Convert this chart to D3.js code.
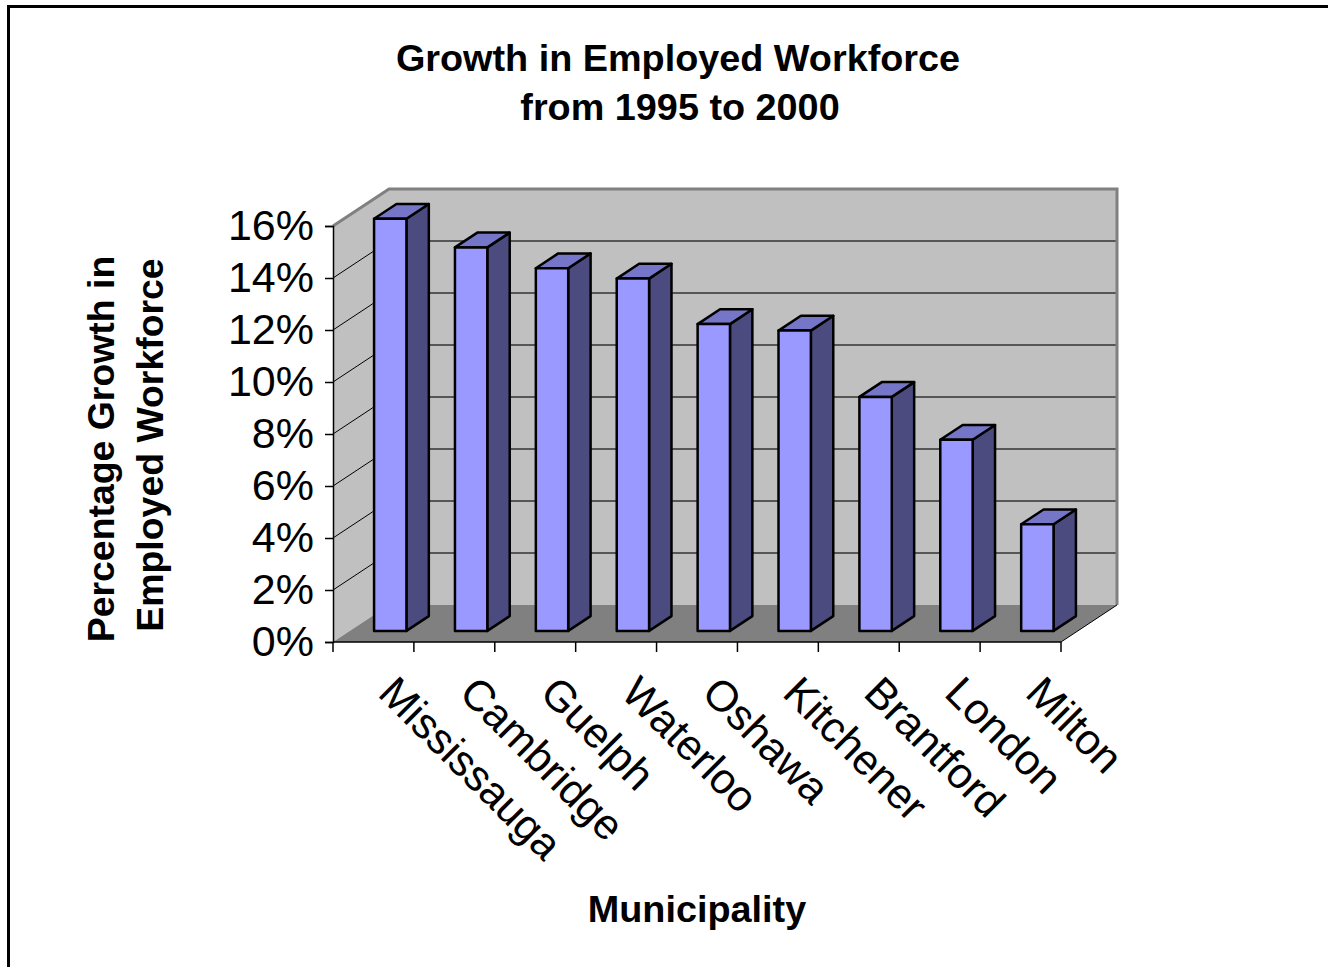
<!DOCTYPE html>
<html>
<head>
<meta charset="utf-8">
<script src="https://cdn.jsdelivr.net/npm/d3@7"></script>
<style>
  body { margin: 0; background: #fff; }
  svg { display: block; font-family: "Liberation Sans", Arial, sans-serif; }
</style>
</head>
<body>
<div id="chart"></div>
<script>
// data
var cities = ["Mississauga", "Cambridge", "Guelph", "Waterloo", "Oshawa",
              "Kitchener", "Brantford", "London", "Milton"];
var growth = [15.85, 14.75, 13.95, 13.55, 11.8, 11.55, 9.0, 7.35, 4.1];
var yTicks = [0, 2, 4, 6, 8, 10, 12, 14, 16];

var width = 1328, height = 967;

var svg = d3.select("#chart")
    .append("svg")
    .attr("width", width)
    .attr("height", height);

// outer border
svg.append("rect")
    .attr("x", 8.5).attr("y", 6.5)
    .attr("width", 1400).attr("height", 1000)
    .attr("fill", "none")
    .attr("stroke", "#000")
    .attr("stroke-width", 3);

// front plane scales
var x = d3.scaleBand().domain(cities).range([333, 1061]).padding(0);
var y = d3.scaleLinear().domain([0, 16]).range([642, 226]);

// 3d depth offset
var depthX = 56, depthY = -37;
var barFront = 0.3, barDepth = 0.4;

function pt(px, py) { return px + "," + py; }

var x0 = x.range()[0], x1 = x.range()[1];
var yBase = y(0), yTop = y(16);

// walls
svg.append("polygon")
    .attr("points", [pt(x0, yBase), pt(x0, yTop), pt(x0 + depthX, yTop + depthY), pt(x0 + depthX, yBase + depthY)].join(" "))
    .attr("fill", "#c0c0c0");
svg.append("polygon")
    .attr("points", [pt(x0 + depthX, yTop + depthY), pt(x1 + depthX, yTop + depthY), pt(x1 + depthX, yBase + depthY), pt(x0 + depthX, yBase + depthY)].join(" "))
    .attr("fill", "#c0c0c0");

// gridlines
var grid = yTicks.filter(function (d) { return d > 0 && d < 16; });
svg.selectAll(".gridBack")
    .data(grid)
    .enter().append("line")
    .attr("x1", x0 + depthX).attr("x2", x1 + depthX)
    .attr("y1", function (d) { return y(d) + depthY; })
    .attr("y2", function (d) { return y(d) + depthY; })
    .attr("stroke", "#333")
    .attr("stroke-width", 1.5);
svg.selectAll(".gridSide")
    .data(grid)
    .enter().append("line")
    .attr("x1", x0).attr("x2", x0 + depthX)
    .attr("y1", function (d) { return y(d); })
    .attr("y2", function (d) { return y(d) + depthY; })
    .attr("stroke", "#000")
    .attr("stroke-width", 1);

// floor
svg.append("polygon")
    .attr("points", [pt(x0, yBase), pt(x1, yBase), pt(x1 + depthX, yBase + depthY), pt(x0 + depthX, yBase + depthY)].join(" "))
    .attr("fill", "#808080");

// wall edges
svg.append("polyline")
    .attr("points", [pt(x0, yTop), pt(x0 + depthX, yTop + depthY), pt(x1 + depthX, yTop + depthY), pt(x1 + depthX, yBase + depthY)].join(" "))
    .attr("fill", "none")
    .attr("stroke", "#808080")
    .attr("stroke-width", 3);
svg.append("line")
    .attr("x1", x1).attr("y1", yBase)
    .attr("x2", x1 + depthX).attr("y2", yBase + depthY)
    .attr("stroke", "#000")
    .attr("stroke-width", 1);

// bars
var bw = x.bandwidth();
var w = bw * 0.4;
var fdx = depthX * barFront, fdy = depthY * barFront;
var sdx = depthX * barDepth, sdy = depthY * barDepth;

var bars = svg.selectAll(".bar")
    .data(cities.map(function (c, i) { return { name: c, value: growth[i] }; }))
    .enter().append("g")
    .attr("class", "bar")
    .attr("stroke", "#000")
    .attr("stroke-width", 2.5)
    .attr("stroke-linejoin", "round");

function bx(d) { return x(d.name) + bw * 0.3 + fdx; }
function by(d) { return y(d.value) + fdy; }
var b0 = yBase + fdy;

bars.append("polygon")
    .attr("fill", "#4b4b80")
    .attr("points", function (d) {
        var l = bx(d) + w, t = by(d);
        return [pt(l, t), pt(l + sdx, t + sdy), pt(l + sdx, b0 + sdy), pt(l, b0)].join(" ");
    });
bars.append("polygon")
    .attr("fill", "#7676c8")
    .attr("points", function (d) {
        var l = bx(d), t = by(d);
        return [pt(l, t), pt(l + w, t), pt(l + w + sdx, t + sdy), pt(l + sdx, t + sdy)].join(" ");
    });
bars.append("rect")
    .attr("fill", "#9999ff")
    .attr("x", bx)
    .attr("y", by)
    .attr("width", w)
    .attr("height", function (d) { return b0 - by(d); });

// y axis
var yAxis = d3.axisLeft(y)
    .tickValues(yTicks)
    .tickSize(8)
    .tickPadding(11)
    .tickFormat(function (d) { return d + "%"; });
var gy = svg.append("g")
    .attr("transform", "translate(" + x0 + ",0)")
    .call(yAxis);
gy.select(".domain").attr("stroke", "#000").attr("stroke-width", 1.5);
gy.selectAll(".tick line").attr("stroke", "#000").attr("stroke-width", 1.5);
gy.selectAll(".tick text")
    .attr("fill", "#000")
    .style("font-size", "43px")
    .style("font-family", "'Liberation Sans', Arial, sans-serif");

// x axis line + ticks at band edges
svg.append("line")
    .attr("x1", x0).attr("x2", x1)
    .attr("y1", yBase).attr("y2", yBase)
    .attr("stroke", "#000").attr("stroke-width", 1.5);
var edges = cities.map(function (c) { return x(c); }).concat([x1]);
svg.selectAll(".xtick")
    .data(edges)
    .enter().append("line")
    .attr("x1", function (d) { return d; }).attr("x2", function (d) { return d; })
    .attr("y1", yBase).attr("y2", yBase + 10)
    .attr("stroke", "#000").attr("stroke-width", 1.5);

// x labels
svg.selectAll(".xlabel")
    .data(cities)
    .enter().append("text")
    .attr("transform", function (d) {
        return "translate(" + (x(d) + bw / 2 + 25) + ",673) rotate(45)";
    })
    .attr("dy", "0.72em")
    .attr("text-anchor", "start")
    .style("font-size", "43px")
    .text(function (d) { return d; });

// title
var title = svg.append("text")
    .attr("text-anchor", "middle")
    .attr("font-weight", "bold")
    .style("font-size", "37.8px");
title.append("tspan").attr("x", 678).attr("y", 71).text("Growth in Employed Workforce");
title.append("tspan").attr("x", 680).attr("y", 120).text("from 1995 to 2000");

// y axis title
var ytitle = svg.append("text")
    .attr("text-anchor", "middle")
    .attr("font-weight", "bold")
    .style("font-size", "37.4px")
    .attr("transform", "rotate(-90)");
ytitle.append("tspan").attr("x", -449).attr("y", 114).text("Percentage Growth in");
ytitle.append("tspan").attr("x", -445).attr("y", 163).text("Employed Workforce");

// x axis title
svg.append("text")
    .attr("text-anchor", "middle")
    .attr("font-weight", "bold")
    .style("font-size", "37.8px")
    .attr("x", 697)
    .attr("y", 922)
    .text("Municipality");
</script>
</body>
</html>
